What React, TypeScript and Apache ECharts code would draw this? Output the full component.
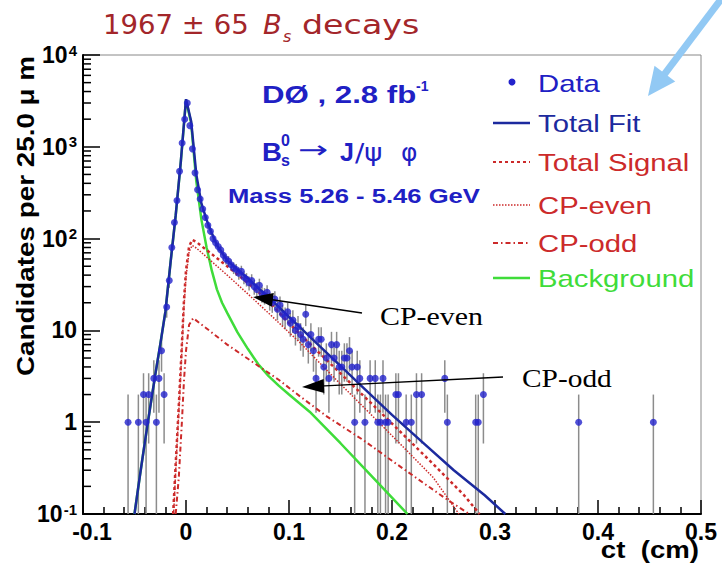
import React, { useEffect, useRef } from 'react';
import * as echarts from 'echarts';

// ---------------- data ----------------
const dataCt = [
  -0.05625, -0.04625, -0.04125, -0.03875, -0.03625, -0.03125, -0.02875, -0.02625, -0.02375, -0.02125,
  -0.01875, -0.01625, -0.01375, -0.01125, -0.00875, -0.00625, -0.00375, -0.00125, 0.00125,
  0.00375, 0.00625, 0.00875, 0.01125, 0.01375, 0.01625, 0.01875, 0.02125, 0.02375, 0.02625,
  0.02875, 0.03125, 0.03375, 0.03625, 0.03875, 0.04125, 0.04375, 0.04625, 0.04875, 0.05125,
  0.05375, 0.05625, 0.05875, 0.06125, 0.06375, 0.06625, 0.06875, 0.07125, 0.07375, 0.07625,
  0.07875, 0.08125, 0.08375, 0.08625, 0.08875, 0.09125, 0.09375, 0.09625, 0.09875, 0.10125,
  0.10375, 0.10625, 0.10875, 0.11125, 0.11375, 0.11625, 0.11875, 0.12125, 0.12375, 0.12625,
  0.12875, 0.13125, 0.13375, 0.13625, 0.13875, 0.14125, 0.14375, 0.14625, 0.14875, 0.15125,
  0.15375, 0.15625, 0.15875, 0.16125, 0.16375, 0.16625, 0.16875, 0.17375, 0.17875, 0.18375,
  0.18625, 0.18875, 0.19125, 0.19375, 0.19625, 0.20375, 0.20625, 0.21375, 0.21875, 0.22375,
  0.22875, 0.25125, 0.25375, 0.28125, 0.28375, 0.28875, 0.38125, 0.45375,
];
const dataCounts = [
  1, 1, 2, 1, 2, 3, 1, 3, 6, 2,
  18, 35, 80, 150, 260, 540, 1100, 2000, 3000,
  1700, 950, 520, 340, 270, 210, 170, 140, 120, 100,
  90, 82, 75, 66, 60, 57, 52, 48, 46, 42,
  44, 38, 36, 33, 35, 30, 28, 31, 25, 24,
  26, 21, 20, 22, 17, 19, 15, 14, 16, 12,
  13, 10, 11, 9, 8, 15, 7, 9, 6, 3,
  8, 8, 4, 5, 3, 7, 5, 7, 4, 4,
  5, 5, 6, 4, 1, 4, 3, 1, 3, 3,
  1, 1, 3, 1, 1, 2, 2, 1, 1, 2,
  2, 3, 1, 1, 1, 2, 1, 1,
];

const fitCt = [-0.05, -0.045, -0.04, -0.035, -0.03, -0.025, -0.02, -0.015, -0.01, -0.005, 0.0,
  0.005, 0.01, 0.015, 0.02, 0.025, 0.03, 0.04, 0.05, 0.06, 0.07, 0.08, 0.09, 0.1, 0.11,
  0.13, 0.15, 0.17, 0.2, 0.23, 0.26, 0.29, 0.31];
const fitVal = [0.1, 0.25, 0.6, 1.4, 3.2, 7, 16, 55, 180, 700, 3300,
  1900, 500, 240, 160, 115, 85, 58, 46, 37, 29, 23, 18, 14, 11,
  6.7, 4.1, 2.5, 1.2, 0.6, 0.3, 0.16, 0.1];

const bkgCt = [-0.05, -0.045, -0.04, -0.035, -0.03, -0.025, -0.02, -0.015, -0.01, -0.005, 0.0,
  0.005, 0.01, 0.015, 0.02, 0.025, 0.03, 0.035, 0.04, 0.05, 0.06, 0.07, 0.08, 0.09, 0.1,
  0.12, 0.15, 0.18, 0.215];
const bkgVal = [0.1, 0.25, 0.6, 1.4, 3.2, 7, 16, 55, 178, 690, 3250,
  1800, 420, 160, 80, 45, 28, 20, 15.5, 9.5, 6.3, 4.3, 3.2, 2.5, 2.0,
  1.3, 0.59, 0.26, 0.1];

const sigCt = [-0.0125, -0.01, -0.007, -0.004, -0.002, 0.0, 0.003, 0.006, 0.01, 0.02, 0.04,
  0.06, 0.08, 0.1, 0.111, 0.13, 0.15, 0.18, 0.21, 0.24, 0.27, 0.285];
const sigVal = [0.1, 0.35, 1.5, 7, 21, 45, 82, 97, 92, 75, 50,
  33, 21, 12, 9, 5.6, 3.4, 1.6, 0.75, 0.35, 0.16, 0.1];

const evenCt = [-0.012, -0.01, -0.007, -0.004, -0.002, 0.0, 0.003, 0.006, 0.01, 0.02, 0.04,
  0.06, 0.08, 0.1, 0.111, 0.13, 0.15, 0.18, 0.21, 0.24, 0.265];
const evenVal = [0.1, 0.3, 1.3, 6, 18, 38, 72, 84, 79, 63, 40,
  25, 15.5, 9.5, 7.3, 4.4, 2.6, 1.2, 0.55, 0.25, 0.1];

const oddCt = [-0.01, -0.007, -0.004, -0.002, 0.0, 0.003, 0.007, 0.02, 0.04, 0.065, 0.09,
  0.111, 0.137, 0.172, 0.2, 0.23, 0.255, 0.275];
const oddVal = [0.1, 0.25, 1.0, 2.8, 6, 11.5, 13.6, 10.5, 7.0, 4.5, 2.9,
  1.9, 1.15, 0.64, 0.38, 0.22, 0.14, 0.1];

const yDecades = [0.1, 1, 10, 100, 1000, 10000];
const yTickLabels = ['{b|10}{s|-1}', '{b|1}', '{b|10}', '{b|10}{s|2}', '{b|10}{s|3}', '{b|10}{s|4}'];
const legendNames = ['Data', 'Total Fit', 'Total Signal', 'CP-even', 'CP-odd', 'Background'];

// ---------------- styles ----------------
const C_DATA = '#2323cc';
const C_FIT = '#1c2a9e';
const C_RED = '#cc2a2a';
const C_GREEN = '#3fdc3a';
const C_TXTBLUE = '#2020c4';
const SANS = 'Liberation Sans, Arial, sans-serif';

const yMinorTicks: number[] = [];
for (let d = 0; d < yDecades.length - 1; d++) {
  for (let m = 2; m <= 9; m++) yMinorTicks.push(+(m * yDecades[d]).toPrecision(3));
}

function txt(text: string, x: number, y: number, font: string, fill: string, opts: any = {}) {
  return {
    type: 'text', x, y, scaleX: opts.scaleX ?? 1, rotation: opts.rotation ?? 0, z: 100,
    style: { text, font, fill, align: opts.align ?? 'left', verticalAlign: 'middle' },
  };
}

function arrow(tip: [number, number], tail: [number, number], len: number, half: number, color: string, w: number) {
  const dx = tail[0] - tip[0], dy = tail[1] - tip[1];
  const L = Math.hypot(dx, dy);
  const ux = dx / L, uy = dy / L;
  const bx = tip[0] + ux * len, by = tip[1] + uy * len;
  const px = -uy * half, py = ux * half;
  const sx = tip[0] + ux * len * 0.8, sy = tip[1] + uy * len * 0.8;
  return [
    { type: 'line', z: 100, shape: { x1: tail[0], y1: tail[1], x2: sx, y2: sy }, style: { stroke: color, lineWidth: w } },
    {
      type: 'polygon', z: 100,
      shape: { points: [[tip[0], tip[1]], [bx + px, by + py], [bx - px, by - py]] },
      style: { fill: color },
    },
  ];
}

function lineSeries(name: string, xs: number[], ys: number[], color: string, width: number, type: any) {
  return {
    name, type: 'line', symbol: 'none', silent: true, z: 3,
    data: xs.map((x, i) => [x, ys[i]]),
    lineStyle: { color, width, type },
  };
}

const legendY = [83, 123, 162, 205, 243, 278];
const legendColors = [C_TXTBLUE, C_FIT, C_RED, C_RED, C_RED, C_GREEN];
const legendLineStyles: any[] = [
  null,
  { stroke: C_FIT, lineWidth: 2.5 },
  { stroke: C_RED, lineWidth: 2, lineDash: [3, 3] },
  { stroke: C_RED, lineWidth: 1.5, lineDash: [1.5, 1.5] },
  { stroke: C_RED, lineWidth: 2, lineDash: [5, 3, 1.5, 3] },
  { stroke: C_GREEN, lineWidth: 2.5 },
];

const graphics: any[] = [];
// title
graphics.push(txt('1967 ± 65', 103, 25, '26px DejaVu Sans', '#a3262a', { scaleX: 1.06 }));
graphics.push(txt('B', 263, 25, 'italic 26px DejaVu Sans', '#a3262a', { scaleX: 1.05 }));
graphics.push(txt('s', 283, 36, 'italic 16px DejaVu Sans', '#a3262a'));
graphics.push(txt('decays', 302, 25, '26px DejaVu Sans', '#a3262a', { scaleX: 1.28 }));
// in-plot annotations
graphics.push(txt('DØ , 2.8 fb', 262, 95, 'bold 24px ' + SANS, C_TXTBLUE, { scaleX: 1.3 }));
graphics.push(txt('-1', 416, 86, 'bold 14px ' + SANS, C_TXTBLUE));
graphics.push(txt('B', 262, 152, 'bold 25px ' + SANS, C_TXTBLUE, { scaleX: 1.1 }));
graphics.push(txt('0', 281, 140, 'bold 16px ' + SANS, C_TXTBLUE));
graphics.push(txt('s', 281, 160, 'bold 16px ' + SANS, C_TXTBLUE));
graphics.push(txt('→', 298, 150, '24px DejaVu Sans', C_TXTBLUE, { scaleX: 1.5 }));
graphics.push(txt('J', 340, 152, 'bold 25px ' + SANS, C_TXTBLUE));
graphics.push(txt('/ψ', 355, 152, '25px DejaVu Sans', C_TXTBLUE, { scaleX: 1.1 }));
graphics.push(txt('φ', 401, 152, '25px DejaVu Sans', C_TXTBLUE));
graphics.push(txt('Mass 5.26 - 5.46 GeV', 228, 196, 'bold 21px ' + SANS, C_TXTBLUE, { scaleX: 1.22 }));
// legend
legendNames.forEach((n, i) => {
  graphics.push(txt(n, 538, legendY[i] + 1, '24px ' + SANS, legendColors[i], { scaleX: 1.22 }));
  const ls = legendLineStyles[i];
  if (ls) {
    graphics.push({ type: 'line', z: 100, shape: { x1: 493, y1: legendY[i], x2: 530, y2: legendY[i] }, style: ls });
  } else {
    graphics.push({ type: 'circle', z: 100, shape: { cx: 512, cy: legendY[i] - 1, r: 3.5 }, style: { fill: C_DATA } });
  }
});
// annotation arrows
graphics.push(...arrow([253, 297], [362, 313], 20, 7, '#000', 1.5));
graphics.push(txt('CP-even', 380, 316, '26px Liberation Serif', '#000', { scaleX: 1.15 }));
graphics.push(...arrow([302, 387], [503, 377], 22, 7, '#000', 1.5));
graphics.push(txt('CP-odd', 522, 378, '26px Liberation Serif', '#000', { scaleX: 1.13 }));
// blue arrow (top right)
graphics.push(...arrow([648, 96], [722, -2], 28, 13, '#92c9f4', 7));
// axis titles
graphics.push(txt('ct  (cm)', 699, 550, 'bold 24px ' + SANS, '#000', { align: 'right', scaleX: 1.15 }));
graphics.push(txt('Candidates per 25.0 μ m', 26, 216, 'bold 24px ' + SANS, '#000', { align: 'center', rotation: Math.PI / 2, scaleX: 1.16 }));

const option: any = {
  animation: false,
  grid: { left: 83, right: 21, top: 55, bottom: 52, show: true, borderColor: '#888', borderWidth: 1 },
  xAxis: {
    type: 'value', min: -0.1, max: 0.5, interval: 0.1,
    axisLine: { onZero: false, lineStyle: { color: '#000', width: 2 } },
    axisTick: { inside: true, length: 14, lineStyle: { color: '#000', width: 1.5 } },
    minorTick: { show: true, splitNumber: 5, length: 7, lineStyle: { color: '#000', width: 1.5 } },
    splitLine: { show: false },
    axisLabel: {
      margin: 6, color: '#000', fontSize: 23, fontWeight: 'bold', fontFamily: SANS,
      formatter: (v: number) => {
        const r = Math.round(v * 10) / 10;
        if (r === -0.1) return '{m|-0.1}';
        return r === 0 ? '0' : String(r);
      },
      rich: { m: { fontSize: 23, fontWeight: 'bold', fontFamily: SANS, color: '#000', padding: [0, 0, 0, 18] } },
    },
  },
  yAxis: {
    type: 'log', logBase: 10, min: 0.1, max: 10000,
    axisLine: { onZero: false, lineStyle: { color: '#000', width: 2 } },
    axisTick: { inside: true, length: 17, lineStyle: { color: '#000', width: 1.5 } },
    splitLine: { show: false },
    axisLabel: {
      margin: 6,
      formatter: (v: number) => {
        const e = Math.round(Math.log10(v));
        const idx = yDecades.findIndex((d) => Math.round(Math.log10(d)) === e);
        return idx >= 0 ? yTickLabels[idx] : '';
      },
      rich: {
        b: { fontSize: 23, fontWeight: 'bold', fontFamily: SANS, color: '#000' },
        s: { fontSize: 15, fontWeight: 'bold', fontFamily: SANS, color: '#000', verticalAlign: 'top', padding: [0, 0, 10, 1] },
      },
    },
  },
  series: [
    {
      type: 'custom', silent: true, z: 1,
      data: dataCt.map((x, i) => [x, dataCounts[i]]),
      renderItem: (params: any, api: any) => {
        const x = api.value(0), n = api.value(1);
        const s = Math.sqrt(n);
        const lo = Math.max(n - s, 0.1);
        const hi = n + s;
        const p1 = api.coord([x, lo]);
        const p2 = api.coord([x, hi]);
        return { type: 'line', shape: { x1: p1[0], y1: p1[1], x2: p2[0], y2: p2[1] }, style: { stroke: '#8c8c8c', lineWidth: 1.5 } };
      },
    },
    lineSeries('Background', bkgCt, bkgVal, C_GREEN, 2.5, 'solid'),
    lineSeries('CP-odd', oddCt, oddVal, C_RED, 2, [5, 3, 1.5, 3]),
    lineSeries('CP-even', evenCt, evenVal, C_RED, 1.5, [1.5, 1.5]),
    lineSeries('Total Signal', sigCt, sigVal, C_RED, 2.5, [3, 3]),
    lineSeries('Total Fit', fitCt, fitVal, C_FIT, 2.5, 'solid'),
    {
      name: 'Data', type: 'scatter', silent: true, z: 5, symbolSize: 7,
      itemStyle: { color: C_DATA },
      data: dataCt.map((x, i) => [x, dataCounts[i]]),
    },
    {
      type: 'custom', silent: true, z: 6,
      data: yMinorTicks.map((v) => [-0.1, v]),
      renderItem: (params: any, api: any) => {
        const p = api.coord([api.value(0), api.value(1)]);
        return { type: 'line', shape: { x1: p[0], y1: p[1], x2: p[0] + 8, y2: p[1] }, style: { stroke: '#000', lineWidth: 1.5 } };
      },
    },
  ],
  graphic: graphics,
};

export default function App() {
  const ref = useRef<HTMLDivElement>(null);
  useEffect(() => {
    const chart = echarts.init(ref.current!, null, { renderer: 'svg' });
    chart.setOption(option);
    return () => chart.dispose();
  }, []);
  return <div ref={ref} style={{ position: 'fixed', left: 0, top: 0, width: 722, height: 566, background: '#fff' }} />;
}
